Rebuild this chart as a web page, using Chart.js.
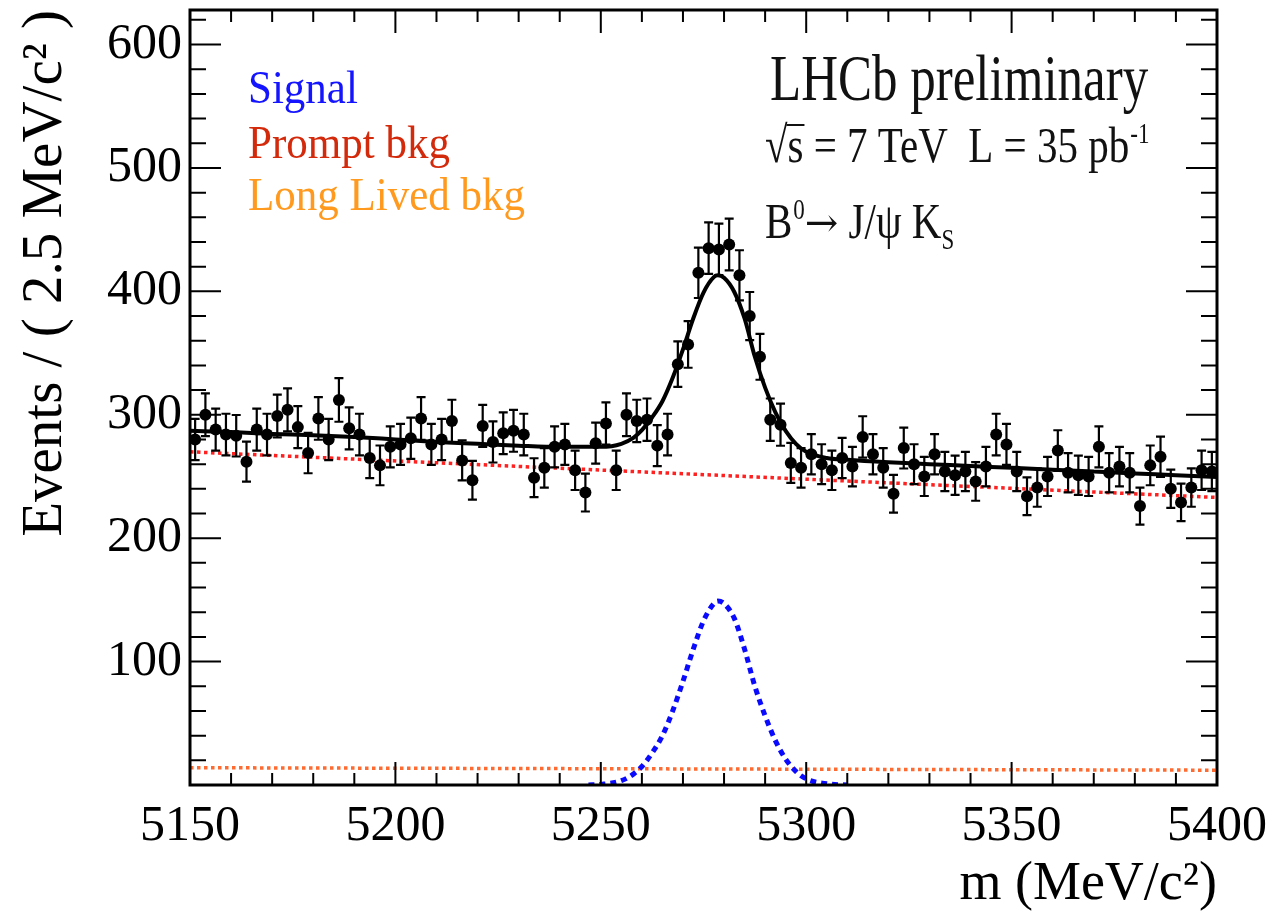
<!DOCTYPE html>
<html>
<head>
<meta charset="utf-8">
<script src="https://cdn.jsdelivr.net/npm/chart.js@4.4.0/dist/chart.umd.min.js"></script>
<style>
html,body{margin:0;padding:0;background:#fff;}
canvas{display:block;}
</style>
</head>
<body>
<canvas id="c" width="1274" height="912"></canvas>
<script>
// ---- binning (2.5 MeV bins from 5150 to 5400) ----
const binLow = 5150;
const binWidth = 2.5;

// ---- data: events per bin ----
const binCounts = [
  280, 300, 288, 284, 283, 262, 288, 284, 299, 304,
  290, 269, 297, 280, 312, 289, 284, 265, 259, 274,
  276, 281, 297, 276, 280, 295, 263, 247, 291, 278,
  285, 287, 284, 249, 257, 274, 276, 255, 237, 277,
  293, 255, 300, 295, 296, 275, 284, 341, 357, 415,
  435, 434, 438, 413, 380, 347, 296, 292, 261, 257,
  268, 260, 255, 265, 258, 282, 268, 257, 236, 273,
  260, 250, 268, 254, 251, 254, 246, 258, 284, 276,
  254, 234, 241, 250, 271, 253, 251, 250, 274, 253,
  258, 253, 226, 259, 266, 240, 229, 241, 255, 254
];

// ---- total fit curve (black) ----
const fitMass  = [5150, 5160, 5170, 5180, 5190, 5200, 5210, 5220, 5230, 5240, 5250, 5255, 5258, 5260, 5262.5, 5265, 5267.5, 5270, 5272.5, 5275, 5277.5, 5278.5, 5280, 5282.5, 5285, 5287.5, 5290, 5292.5, 5295, 5297.5, 5300, 5305, 5310, 5320, 5330, 5340, 5350, 5360, 5370, 5380, 5390, 5400];
const fitTotal = [287, 286, 284.5, 283.5, 282, 280, 278, 276.5, 275, 274, 274, 276.5, 281.5, 287.5, 298, 311, 330, 353, 378, 399, 411.5, 413, 411, 399.5, 378, 347, 322, 302, 287, 276.5, 270, 265, 263.5, 261.5, 260, 258.5, 257, 255.5, 254, 252.5, 251, 249.5];

// ---- signal component (blue dotted) ----
const signalMass   = [5247, 5250, 5255, 5258, 5260, 5262.5, 5265, 5267.5, 5270, 5272.5, 5275, 5277.5, 5278.5, 5280, 5282.5, 5285, 5287.5, 5290, 5292.5, 5295, 5297.5, 5300, 5305, 5310];
const signalValues = [0, 0.5, 3.5, 9, 15, 26, 40, 60, 84, 110, 133, 147, 149, 147, 135, 110, 80, 56, 36, 21, 11, 5, 1, 0];

// ---- prompt background (red dotted) ----
const promptMass   = [5150, 5400];
const promptValues = [270, 233];

// ---- long lived background (orange dotted) ----
const longLivedMass   = [5150, 5400];
const longLivedValues = [14, 12];

// ---- axis ticks ----
const xTickValues = [5150, 5200, 5250, 5300, 5350, 5400];
const yTickValues = [100, 200, 300, 400, 500, 600];

const FONT = "'Liberation Serif', 'DejaVu Serif', serif";

const pts = binCounts.map((v, i) => ({x: binLow + binWidth * (i + 0.5), y: v}));
const toXY = (xs, ys) => xs.map((x, i) => ({x: x, y: ys[i]}));

// error bars (Poisson, sqrt N) drawn through the scales
const errorBars = {
  id: 'errorBars',
  afterDatasetsDraw(chart) {
    const {ctx, scales: {x, y}} = chart;
    ctx.save();
    ctx.strokeStyle = '#000';
    ctx.lineWidth = 2.2;
    pts.forEach(p => {
      const e = Math.sqrt(p.y);
      const px = x.getPixelForValue(p.x);
      const yt = y.getPixelForValue(p.y + e);
      const yb = y.getPixelForValue(p.y - e);
      ctx.beginPath();
      ctx.moveTo(px, yt); ctx.lineTo(px, yb);
      ctx.moveTo(px - 4.5, yt); ctx.lineTo(px + 4.5, yt);
      ctx.moveTo(px - 4.5, yb); ctx.lineTo(px + 4.5, yb);
      ctx.stroke();
    });
    ctx.restore();
  }
};

// ROOT-like frame with inward ticks
const frameTicks = {
  id: 'frameTicks',
  afterDraw(chart) {
    const {ctx, chartArea: a, scales: {x, y}} = chart;
    ctx.save();
    ctx.strokeStyle = '#000';
    ctx.lineWidth = 2;
    ctx.beginPath();
    for (let v = 5150; v <= 5400; v += 10) {
      const px = x.getPixelForValue(v);
      const len = (v % 50 === 0) ? 23 : 12;
      ctx.moveTo(px, a.bottom); ctx.lineTo(px, a.bottom - len);
      ctx.moveTo(px, a.top); ctx.lineTo(px, a.top + len);
    }
    for (let v = 20; v <= 620; v += 20) {
      const py = y.getPixelForValue(v);
      const len = (v % 100 === 0) ? 31 : 16;
      ctx.moveTo(a.left, py); ctx.lineTo(a.left + len, py);
      ctx.moveTo(a.right, py); ctx.lineTo(a.right - len, py);
    }
    ctx.stroke();
    ctx.lineWidth = 3;
    ctx.strokeRect(a.left, a.top, a.right - a.left, a.bottom - a.top);
    ctx.restore();
  }
};

function sText(ctx, text, x, y, size, color, sy, family) {
  ctx.save();
  ctx.font = size + 'px ' + (family || FONT);
  ctx.fillStyle = color;
  ctx.textAlign = 'left';
  ctx.textBaseline = 'alphabetic';
  ctx.translate(x, y);
  ctx.scale(1, sy);
  ctx.fillText(text, 0, 0);
  const w = ctx.measureText(text).width;
  ctx.restore();
  return w;
}

const annotations = {
  id: 'annotations',
  afterDraw(chart) {
    const ctx = chart.ctx;
    // legend-like coloured labels
    sText(ctx, 'Signal', 248, 103, 43, '#1414ff', 1.1);
    sText(ctx, 'Prompt bkg', 248, 158, 43, '#d42a0c', 1.1);
    sText(ctx, 'Long Lived bkg', 248, 210, 43, '#ff9a1e', 1.1);

    // experiment label
    sText(ctx, 'LHCb preliminary', 770, 100, 51, '#111', 1.3);

    // sqrt(s) line
    let x0 = 765, b = 162, fs = 41, sy = 1.25;
    let w = sText(ctx, '\u221A', x0, b, fs, '#111', sy);
    let xs = x0 + w;
    const ws = sText(ctx, 's', xs, b, fs, '#111', sy);
    ctx.save();
    ctx.strokeStyle = '#111'; ctx.lineWidth = 2;
    ctx.beginPath(); ctx.moveTo(xs - 1, b - 37); ctx.lineTo(xs + ws + 1, b - 37); ctx.stroke();
    ctx.restore();
    let xc = xs + ws;
    xc += sText(ctx, ' = 7 TeV  L = 35 pb', xc, b, fs, '#111', sy);
    sText(ctx, '-1', xc + 1, b - 19, 23, '#111', sy);

    // decay line
    b = 238;
    xc = 765;
    xc += sText(ctx, 'B', xc, b, fs, '#111', sy);
    xc += sText(ctx, '0', xc + 1, b - 19, 23, '#111', sy) + 1;
    xc += sText(ctx, '\u2192', xc, b - 2, 40, '#111', 1.0, "'DejaVu Serif', serif");
    xc += sText(ctx, ' J/\u03C8 K', xc, b, fs, '#111', sy);
    sText(ctx, 'S', xc, b + 11, 23, '#111', sy);
  }
};

new Chart(document.getElementById('c'), {
  type: 'line',
  data: {
    datasets: [
      {
        label: 'Data',
        data: pts,
        showLine: false,
        pointRadius: 6,
        pointBackgroundColor: '#000',
        pointBorderColor: '#000',
        pointBorderWidth: 0
      },
      {
        label: 'Total fit',
        data: toXY(fitMass, fitTotal),
        borderColor: '#000',
        borderWidth: 4,
        pointRadius: 0,
        cubicInterpolationMode: 'monotone',
        fill: false
      },
      {
        label: 'Signal',
        data: toXY(signalMass, signalValues),
        borderColor: '#0a0aff',
        borderWidth: 5,
        borderDash: [6, 5],
        pointRadius: 0,
        cubicInterpolationMode: 'monotone',
        fill: false
      },
      {
        label: 'Prompt bkg',
        data: toXY(promptMass, promptValues),
        borderColor: '#ff2020',
        borderWidth: 3.5,
        borderDash: [3.5, 3.5],
        pointRadius: 0,
        fill: false
      },
      {
        label: 'Long Lived bkg',
        data: toXY(longLivedMass, longLivedValues),
        borderColor: '#ff6a30',
        borderWidth: 3.5,
        borderDash: [3.5, 3.5],
        pointRadius: 0,
        fill: false
      }
    ]
  },
  options: {
    responsive: false,
    animation: false,
    devicePixelRatio: 1,
    layout: {padding: {top: 10, right: 57, left: 0, bottom: 0}},
    plugins: {
      legend: {display: false},
      tooltip: {enabled: false}
    },
    scales: {
      x: {
        type: 'linear',
        min: 5150,
        max: 5400,
        afterBuildTicks: s => { s.ticks = xTickValues.map(v => ({value: v})); },
        afterFit: s => { s.height = 127; s.paddingLeft = 0; s.paddingRight = 0; },
        grid: {display: false, drawTicks: false},
        border: {display: false},
        ticks: {
          callback: v => String(v),
          color: '#000',
          font: {family: FONT, size: 50},
          padding: 12,
          maxRotation: 0,
          autoSkip: false
        },
        title: {
          display: true,
          text: 'm (MeV/c\u00B2)',
          align: 'end',
          color: '#000',
          font: {family: FONT, size: 54, lineHeight: 1},
          padding: {top: 0, bottom: 0}
        }
      },
      y: {
        type: 'linear',
        min: 0,
        max: 628,
        afterBuildTicks: s => { s.ticks = yTickValues.map(v => ({value: v})); },
        afterFit: s => { s.width = 190; s.paddingTop = 0; s.paddingBottom = 0; },
        grid: {display: false, drawTicks: false},
        border: {display: false},
        ticks: {
          callback: v => String(v),
          color: '#000',
          font: {family: FONT, size: 50},
          padding: 8,
          autoSkip: false
        },
        title: {
          display: true,
          text: 'Events / ( 2.5 MeV/c\u00B2 )',
          align: 'end',
          color: '#000',
          font: {family: FONT, size: 57, lineHeight: 1.2},
          padding: {top: 12, bottom: 0}
        }
      }
    }
  },
  plugins: [errorBars, frameTicks, annotations]
});
</script>
</body>
</html>
